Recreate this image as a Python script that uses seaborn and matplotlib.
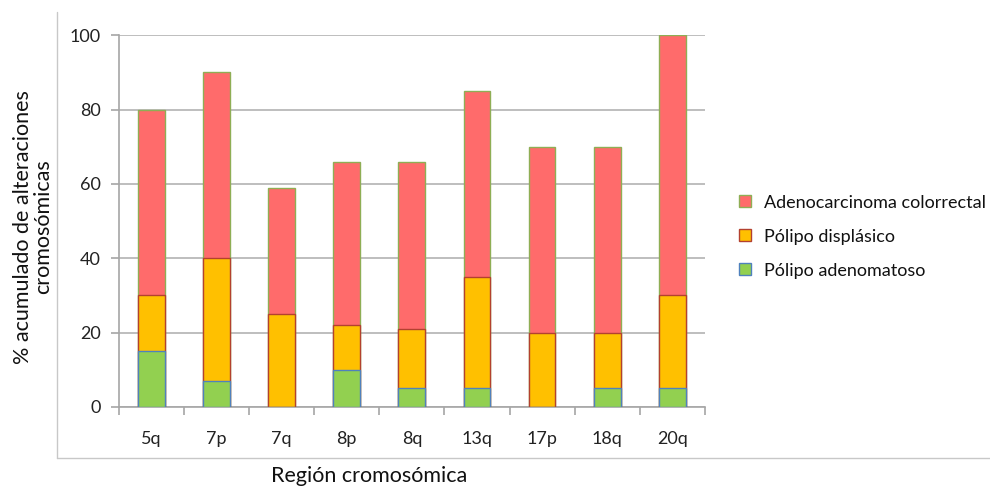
import matplotlib
matplotlib.use("Agg")
import matplotlib.pyplot as plt
import seaborn as sns
import pandas as pd
import numpy as np
from matplotlib.patches import Patch
from matplotlib.lines import Line2D

# Chromosomal regions and the contribution of each lesion type (%)
regiones = ["5q", "7p", "7q", "8p", "8q", "13q", "17p", "18q", "20q"]
adenomatoso = [15, 7, 0, 10, 5, 5, 0, 5, 5]
displasico = [15, 33, 25, 12, 16, 30, 20, 15, 25]
adenocarcinoma = [50, 50, 34, 44, 45, 50, 50, 50, 70]

series = ["Pólipo adenomatoso", "Pólipo displásico", "Adenocarcinoma colorrectal"]
fills = {"Pólipo adenomatoso": "#92D050",
         "Pólipo displásico": "#FFC000",
         "Adenocarcinoma colorrectal": "#FF6B6B"}
edges = {"Pólipo adenomatoso": "#4F81BD",
         "Pólipo displásico": "#B3412F",
         "Adenocarcinoma colorrectal": "#8FAE55"}

df = pd.DataFrame({"region": regiones,
                   "Pólipo adenomatoso": adenomatoso,
                   "Pólipo displásico": displasico,
                   "Adenocarcinoma colorrectal": adenocarcinoma})
df = df.set_index("region")
cum = df[series].cumsum(axis=1).reset_index()

sns.set_theme(style="white")
plt.rcParams["font.family"] = ["Lato", "DejaVu Sans"]

fig = plt.figure(figsize=(9.9, 4.88), dpi=100)
ax = fig.add_axes([0.120, 0.166, 0.592, 0.762])

# stacked bars: draw cumulative totals from the top segment down
for name in reversed(series):
    sns.barplot(data=cum, x="region", y=name, order=regiones, ax=ax,
                color=fills[name], edgecolor=edges[name], linewidth=1.0,
                width=0.41, saturation=1, zorder=3)

ax.set_ylim(0, 100)
ax.set_xlim(-0.5, len(regiones) - 0.5)
ax.set_yticks(np.arange(0, 101, 20))
ax.yaxis.grid(True, color="#BEBEBE", linewidth=1.4, zorder=0)
ax.set_axisbelow(True)

for s in ["top", "right"]:
    ax.spines[s].set_visible(False)
for s in ["left", "bottom"]:
    ax.spines[s].set_color("#A6A6A6")
    ax.spines[s].set_linewidth(1.2)

# category separators on the x axis
ax.set_xticks(np.arange(-0.5, len(regiones), 1.0), minor=True)
ax.tick_params(axis="x", which="minor", bottom=True, length=6, color="#A6A6A6", width=1.2)
ax.tick_params(axis="x", which="major", bottom=False, labelsize=13, pad=11, colors="#222222")
ax.tick_params(axis="y", left=True, length=6, color="#A6A6A6", width=1.2,
               labelsize=13, pad=7, colors="#222222")

ax.set_xlabel("")
ax.set_ylabel("")
fig.text(0.373, 0.004, "Región cromosómica", ha="center", va="bottom", fontsize=15.5, color="#111111")
fig.text(0.033, 0.535, "% acumulado de alteraciones\ncromosómicas", ha="center", va="center",
         rotation=90, fontsize=15.5, color="#111111", linespacing=1.0)

# chart-area frame
fig.add_artist(Line2D([57 / 990, 57 / 990], [1 - 12 / 488, 1 - 458 / 488],
                      transform=fig.transFigure, color="#C8C8C8", linewidth=1.0))
fig.add_artist(Line2D([57 / 990, 1.0], [1 - 458 / 488, 1 - 458 / 488],
                      transform=fig.transFigure, color="#C8C8C8", linewidth=1.0))

handles = [Patch(facecolor=fills[n], edgecolor=edges[n], linewidth=1.0) for n in reversed(series)]
fig.legend(handles, list(reversed(series)), loc="center left",
           bbox_to_anchor=(0.730, 0.515), frameon=False, fontsize=13,
           handlelength=0.65, handleheight=0.65, handletextpad=0.75, labelspacing=1.0,
           labelcolor="#111111")

fig.savefig("out.png", dpi=100)
